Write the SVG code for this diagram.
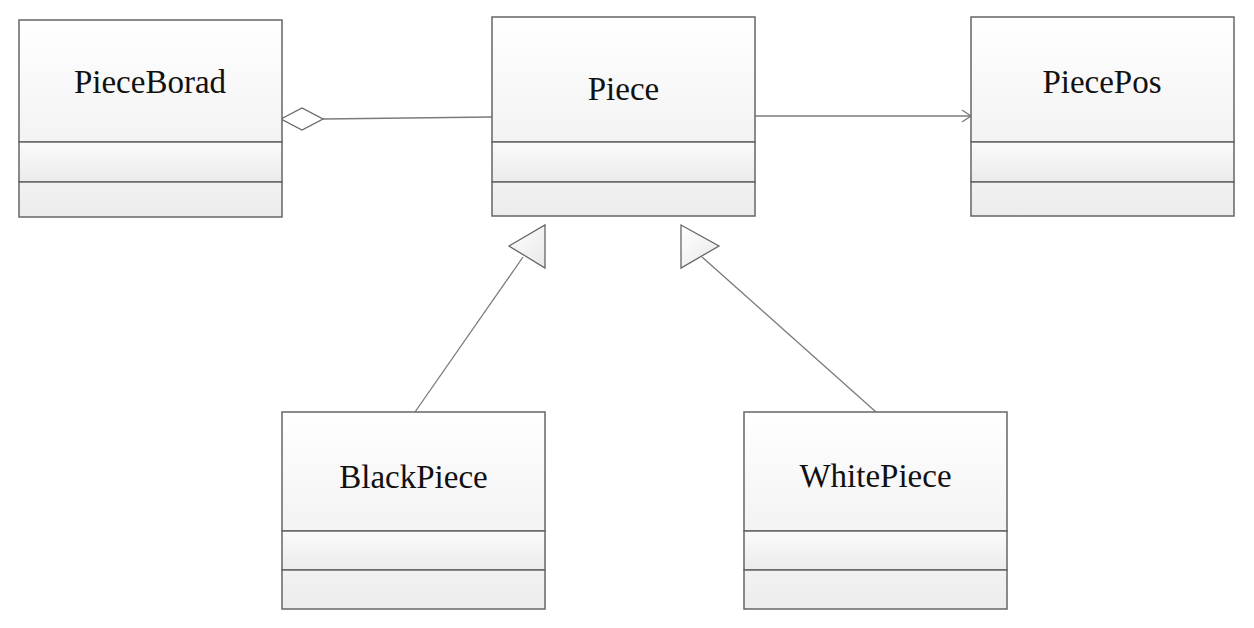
<svg xmlns="http://www.w3.org/2000/svg" width="1254" height="628" viewBox="0 0 1254 628">
<defs>
<linearGradient id="gTop" x1="0" y1="0" x2="0" y2="1">
<stop offset="0" stop-color="#ffffff"/>
<stop offset="1" stop-color="#f3f3f3"/>
</linearGradient>
<linearGradient id="gMid" x1="0" y1="0" x2="0" y2="1">
<stop offset="0" stop-color="#fbfbfb"/>
<stop offset="1" stop-color="#ebebeb"/>
</linearGradient>
<linearGradient id="gBot" x1="0" y1="0" x2="0" y2="1">
<stop offset="0" stop-color="#f2f2f2"/>
<stop offset="1" stop-color="#ececec"/>
</linearGradient>
<linearGradient id="gTri" x1="0" y1="0" x2="1" y2="1">
<stop offset="0" stop-color="#ffffff"/>
<stop offset="1" stop-color="#e8e8e8"/>
</linearGradient>
</defs>
<style>
.top{fill:url(#gTop);stroke:#666;stroke-width:1.5}
.mid{fill:url(#gMid);stroke:#666;stroke-width:1.5}
.bot{fill:url(#gBot);stroke:#666;stroke-width:1.5}
.lbl{font-family:"Liberation Serif","Times New Roman",serif;font-size:33px;fill:#111;text-anchor:middle}
.conn{stroke:#7a7a7a;stroke-width:1.3;fill:none}
.head{fill:url(#gTri);stroke:#666;stroke-width:1.3}
</style>
<rect width="1254" height="628" fill="#ffffff"/>

<g id="connectors">
<line class="conn" x1="323" y1="119" x2="492" y2="117"/>
<polygon class="head" points="281,119 302,108 323,119 302,130" style="fill:#ffffff"/>
<line class="conn" x1="755" y1="116" x2="970" y2="116"/>
<polyline class="conn" points="962,110 971,116 962,122"/>
<line class="conn" x1="415" y1="412" x2="523" y2="257"/>
<polygon class="head" points="509,246 545,225 545,268"/>
<line class="conn" x1="876" y1="412" x2="702" y2="257"/>
<polygon class="head" points="681,225 681,268 719,246"/>
</g>

<g id="PieceBorad">
<rect class="top" x="19" y="20" width="263" height="122"/>
<rect class="mid" x="19" y="142" width="263" height="40"/>
<rect class="bot" x="19" y="182" width="263" height="35"/>
<text class="lbl" x="150" y="93">PieceBorad</text>
</g>

<g id="Piece">
<rect class="top" x="492" y="17" width="263" height="125"/>
<rect class="mid" x="492" y="142" width="263" height="40"/>
<rect class="bot" x="492" y="182" width="263" height="34"/>
<text class="lbl" x="623.5" y="100">Piece</text>
</g>

<g id="PiecePos">
<rect class="top" x="971" y="17" width="263" height="125"/>
<rect class="mid" x="971" y="142" width="263" height="40"/>
<rect class="bot" x="971" y="182" width="263" height="34"/>
<text class="lbl" x="1102" y="93">PiecePos</text>
</g>

<g id="BlackPiece">
<rect class="top" x="282" y="412" width="263" height="119"/>
<rect class="mid" x="282" y="531" width="263" height="39"/>
<rect class="bot" x="282" y="570" width="263" height="39"/>
<text class="lbl" x="413.5" y="488">BlackPiece</text>
</g>

<g id="WhitePiece">
<rect class="top" x="744" y="412" width="263" height="119"/>
<rect class="mid" x="744" y="531" width="263" height="39"/>
<rect class="bot" x="744" y="570" width="263" height="39"/>
<text class="lbl" x="875.5" y="487">WhitePiece</text>
</g>
</svg>
